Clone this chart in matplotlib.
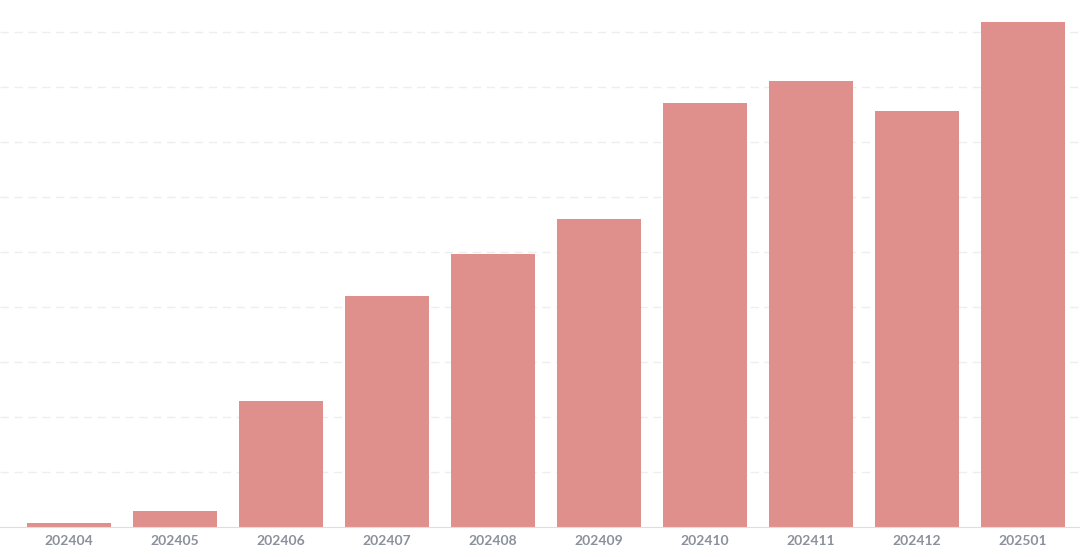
import matplotlib.pyplot as plt

months = ["202404", "202405", "202406", "202407", "202408",
          "202409", "202410", "202411", "202412", "202501"]
values = [0.07, 0.29, 2.29, 4.2, 4.96, 5.6, 7.71, 8.11, 7.56, 9.18]

fig = plt.figure(figsize=(10.8, 5.57), dpi=100)
ax = fig.add_axes([0, 30 / 557, 1, 527 / 557])
ax.bar(range(len(months)), values, width=0.79, color="#E0908C", zorder=2)
ax.set_xlim(-0.65, 9.54)
ax.set_ylim(0, 9.58)
ax.set_yticks(range(1, 10))
ax.yaxis.grid(True, color="#eeeeee", linestyle=(0, (6, 4)), linewidth=1, zorder=0)
ax.tick_params(axis="y", left=False, labelleft=False)
ax.set_xticks(range(len(months)))
ax.set_xticklabels(months, fontfamily="Lato", fontweight="bold", fontsize=10, color="#8a919c")
ax.tick_params(axis="x", length=0, pad=6)
for s in ["top", "left", "right"]:
    ax.spines[s].set_visible(False)
ax.spines["bottom"].set_color("#dddddd")
fig.savefig("out.png", dpi=100)
